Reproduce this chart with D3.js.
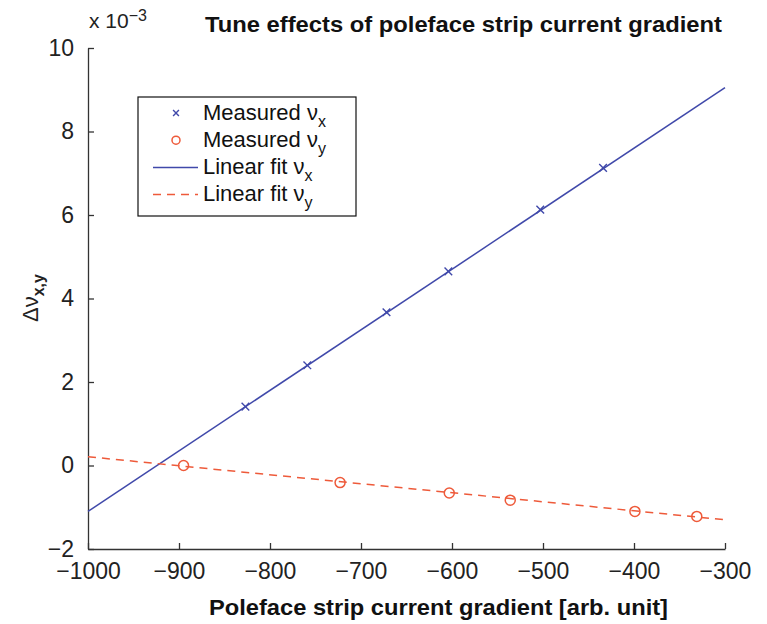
<!DOCTYPE html>
<html>
<head>
<meta charset="utf-8">
<script src="https://cdn.jsdelivr.net/npm/d3@7"></script>
<style>
  html, body { margin: 0; padding: 0; background: #fff; }
  svg { display: block; font-family: "Liberation Sans", Arial, sans-serif; }
</style>
</head>
<body>
<svg id="chart" width="767" height="624"></svg>
<script>
// ---- data (y values in units of 1e-3) ----
const xTicks = [-1000, -900, -800, -700, -600, -500, -400, -300];
const yTicks = [-2, 0, 2, 4, 6, 8, 10];
const measXx = [-827, -759, -672, -604, -503, -434];
const measXy = [1.41, 2.40, 3.67, 4.65, 6.13, 7.13];
const measYx = [-895, -723, -603, -536, -399, -331];
const measYy = [0.00, -0.41, -0.66, -0.83, -1.10, -1.22];
const fitXx = [-1000, -300];
const fitXy = [-1.10, 9.05];
const fitYx = [-1000, -300];
const fitYy = [0.21, -1.30];

const blue = "#4049aa";
const red = "#ee5a3a";
const axisCol = "#333";

const svg = d3.select("#chart");
const L = 88, R = 725, T = 48, B = 549;
const x = d3.scaleLinear().domain([-1000, -300]).range([L, R]);
const y = d3.scaleLinear().domain([-2, 10]).range([B, T]);

// axes
const xAxis = d3.axisBottom(x).tickValues(xTicks).tickFormat(d3.format("d"))
  .tickSize(-6).tickSizeOuter(0).tickPadding(14);
const gx = svg.append("g").attr("transform", `translate(0,${B})`).call(xAxis);
const yAxis = d3.axisLeft(y).tickValues(yTicks).tickFormat(d3.format("d"))
  .tickSize(-6).tickSizeOuter(0).tickPadding(14);
const gy = svg.append("g").attr("transform", `translate(${L},0)`).call(yAxis);
[gx, gy].forEach(g => {
  g.select(".domain").attr("stroke", axisCol).attr("stroke-width", 1.3);
  g.selectAll(".tick line").attr("stroke", axisCol).attr("stroke-width", 1.3);
  g.selectAll(".tick text").attr("fill", "#222").style("font-size", "23px")
    .style("font-family", "'Liberation Sans', Arial, sans-serif");
});

// fit lines
const line = d3.line().x(d => x(d[0])).y(d => y(d[1]));
svg.append("path").datum(d3.zip(fitXx, fitXy)).attr("d", line)
  .attr("fill", "none").attr("stroke", blue).attr("stroke-width", 1.5);
svg.append("path").datum(d3.zip(fitYx, fitYy)).attr("d", line)
  .attr("fill", "none").attr("stroke", red).attr("stroke-width", 1.5)
  .attr("stroke-dasharray", "8,6");

// measured points
const cross = d3.symbol().type(d3.symbolX).size(40);
svg.append("g").selectAll("path").data(d3.zip(measXx, measXy)).join("path")
  .attr("d", cross).attr("transform", d => `translate(${x(d[0])},${y(d[1])})`)
  .attr("fill", "none").attr("stroke", blue).attr("stroke-width", 1.4);
svg.append("g").selectAll("circle").data(d3.zip(measYx, measYy)).join("circle")
  .attr("cx", d => x(d[0])).attr("cy", d => y(d[1])).attr("r", 5)
  .attr("fill", "none").attr("stroke", red).attr("stroke-width", 1.5);

// title
svg.append("text").attr("x", 205).attr("y", 32).attr("font-size", 22).attr("font-weight", "bold")
  .attr("fill", "#111").attr("textLength", 517).attr("lengthAdjust", "spacingAndGlyphs")
  .text("Tune effects of poleface strip current gradient");

// x label
svg.append("text").attr("x", 209).attr("y", 615).attr("font-size", 22).attr("font-weight", "bold")
  .attr("fill", "#111").attr("textLength", 459).attr("lengthAdjust", "spacingAndGlyphs")
  .text("Poleface strip current gradient [arb. unit]");

// exponent
const ex = svg.append("text").attr("x", 89).attr("y", 28).attr("font-size", 21).attr("fill", "#222");
ex.append("tspan").text("x 10");
ex.append("tspan").attr("dy", -7).attr("font-size", 16).text("−3");

// y label
const yl = svg.append("text").attr("transform", "translate(38,298) rotate(-90)")
  .attr("text-anchor", "middle").attr("font-size", 22).attr("fill", "#222");
yl.append("tspan").text("Δν");
yl.append("tspan").attr("dy", 6).attr("font-size", 16).attr("font-weight", "bold").text("x,y");

// legend
const lg = svg.append("g");
lg.append("rect").attr("x", 138).attr("y", 97).attr("width", 218).attr("height", 119)
  .attr("fill", "#fff").attr("stroke", "#111").attr("stroke-width", 1.2);
const legItems = [
  {label: "Measured ν", sub: "x", kind: "cross"},
  {label: "Measured ν", sub: "y", kind: "circle"},
  {label: "Linear fit ν", sub: "x", kind: "solid"},
  {label: "Linear fit ν", sub: "y", kind: "dash"}
];
const crossSmall = d3.symbol().type(d3.symbolX).size(24);
legItems.forEach((it, i) => {
  const by = 119.5 + i * 27.2;
  const my = by - 6.5;
  if (it.kind === "cross") {
    lg.append("path").attr("d", crossSmall).attr("transform", `translate(176,${my})`)
      .attr("fill", "none").attr("stroke", blue).attr("stroke-width", 1.4);
  } else if (it.kind === "circle") {
    lg.append("circle").attr("cx", 176).attr("cy", my).attr("r", 4)
      .attr("fill", "none").attr("stroke", red).attr("stroke-width", 1.5);
  } else {
    lg.append("line").attr("x1", 153).attr("x2", 198).attr("y1", my).attr("y2", my)
      .attr("stroke", it.kind === "solid" ? blue : red).attr("stroke-width", 1.5)
      .attr("stroke-dasharray", it.kind === "dash" ? "8,6" : null);
  }
  const t = lg.append("text").attr("x", 203).attr("y", by).attr("font-size", 22).attr("fill", "#111");
  t.append("tspan").text(it.label);
  t.append("tspan").attr("dy", 7).attr("font-size", 16).text(it.sub);
});
</script>
</body>
</html>
